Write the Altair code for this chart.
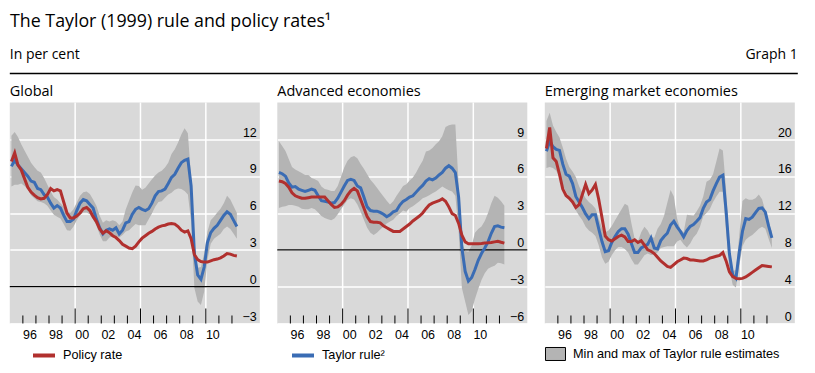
import altair as alt
import pandas as pd

# ---------------- data ----------------
quarters = [f"{1995 + i // 4}Q{i % 4 + 1}" for i in range(70)]
years = [int(q[:4]) + (int(q[-1]) - 1) / 4 + 0.125 for q in quarters]

global_policy = [10.2, 10.9, 9.9, 9.5, 8.8, 8.1, 7.7, 7.45, 7.25, 7.15,
                 7.2, 7.5, 8.0, 7.8, 7.9, 7.8, 6.9, 6.0, 5.6, 5.6,
                 5.75, 6.0, 6.35, 6.45, 6.2, 5.7, 5.3, 4.7, 4.35, 4.55,
                 4.4, 4.15, 4.0, 3.75, 3.45, 3.3, 3.15, 3.1, 3.3, 3.65,
                 3.95, 4.15, 4.35, 4.5, 4.7, 4.85, 4.95, 5.0, 5.1, 5.15,
                 5.1, 4.9, 4.6, 4.45, 4.55, 3.9, 2.6, 2.2, 2.05, 2.0,
                 2.0, 2.1, 2.2, 2.25, 2.35, 2.5, 2.7, 2.65, 2.55, 2.5]
global_taylor = [9.8, 10.3, 9.9, 9.6, 9.3, 9.0, 8.6, 8.5, 8.0, 7.9,
                 7.5, 7.3, 6.8, 6.4, 6.6, 6.4, 5.8, 5.3, 5.3, 5.5,
                 6.2, 6.8, 7.1, 7.0, 6.7, 6.4, 5.5, 4.8, 4.3, 4.6,
                 4.7, 4.6, 4.8, 4.3, 4.6, 5.2, 5.3, 5.9, 6.3, 6.45,
                 6.3, 6.2, 6.35, 6.8, 7.4, 7.75, 7.8, 7.95, 8.4, 8.9,
                 9.15, 9.65, 10.1, 10.3, 10.4, 8.2, 2.7, 0.95, 0.6, 1.6,
                 3.6, 4.4, 4.75, 5.0, 5.4, 5.8, 6.1, 5.9, 5.4, 4.9]
global_min = [8.15, 8.3, 8.3, 8.4, 8.2, 7.95, 7.45, 7.2, 6.95, 6.9,
              6.8, 6.6, 6.2, 5.85, 5.7, 5.55, 5.1, 4.6, 4.55, 4.9,
              5.4, 5.85, 6.05, 6.05, 5.9, 5.5, 5.0, 4.25, 3.7, 3.7,
              4.0, 4.1, 4.15, 4.0, 4.2, 4.5, 4.6, 4.85, 5.1, 5.0,
              5.0, 5.0, 5.5, 5.95, 6.5, 6.9, 6.95, 7.25, 7.5, 7.65,
              7.9, 8.0, 7.95, 7.8, 7.5, 5.3, -0.1, -1.2, -1.5, -0.4,
              2.2, 3.5, 3.9, 4.1, 4.3, 4.7, 4.9, 4.7, 4.3, 3.9]
global_max = [12.3, 12.6, 12.2, 11.6, 11.1, 10.6, 10.1, 9.75, 9.45, 9.3,
              8.85, 8.3, 7.75, 7.3, 7.1, 6.8, 6.5, 6.15, 6.0, 6.3,
              6.85, 7.4, 7.7, 7.75, 7.55, 7.1, 6.6, 5.8, 5.2, 5.4,
              5.3, 5.4, 5.3, 5.0, 5.3, 6.3, 7.0, 7.7, 8.25, 8.2,
              7.9, 8.05, 8.4, 8.75, 9.05, 9.3, 9.45, 9.7, 10.1, 10.8,
              11.2, 11.75, 12.4, 12.9, 12.5, 8.9, 3.6, 1.55, 1.6, 2.7,
              4.5, 5.4, 5.7, 6.05, 6.35, 6.8, 7.4, 7.1, 6.55, 6.0]

adv_policy = [5.6, 5.55, 5.4, 5.1, 4.65, 4.4, 4.3, 4.2, 4.2, 4.25,
              4.3, 4.3, 4.3, 4.3, 4.3, 4.0, 3.7, 3.45, 3.5, 3.7,
              4.0, 4.45, 4.8, 5.0, 4.8, 4.1, 3.4, 2.7, 2.3, 2.25,
              2.25, 2.2, 1.95, 1.8, 1.65, 1.5, 1.5, 1.5, 1.7, 1.9,
              2.1, 2.35, 2.55, 2.75, 3.0, 3.35, 3.65, 3.8, 3.9, 4.0,
              4.15, 3.95, 3.5, 2.95, 2.8, 2.15, 1.2, 0.65, 0.5, 0.5,
              0.5, 0.5, 0.52, 0.55, 0.57, 0.6, 0.65, 0.7, 0.62, 0.55]
adv_taylor = [6.3, 6.2, 6.0, 5.45, 5.1, 5.15, 4.95, 4.85, 4.75, 4.85,
              4.95, 4.85, 4.4, 4.0, 3.95, 3.9, 3.8, 3.85, 4.2, 4.7,
              5.2, 5.65, 5.75, 5.65, 5.2, 5.05, 4.3, 3.5, 3.2, 3.15,
              3.15, 3.05, 2.9, 2.7, 2.85, 3.1, 3.2, 3.65, 3.95, 4.1,
              4.3, 4.4, 4.7, 5.0, 5.25, 5.6, 5.8, 5.7, 5.85, 6.1,
              6.3, 6.65, 6.85, 6.65, 6.3, 4.3, 0.15, -1.75, -2.55, -2.25,
              -1.6, -0.85, -0.3, 0.15, 0.65, 1.35, 1.9, 1.95, 1.85, 1.8]
adv_min = [3.4, 3.5, 3.55, 3.65, 3.65, 3.6, 3.5, 3.35, 3.3, 3.3,
           3.4, 3.3, 3.05, 2.75, 2.6, 2.5, 2.4, 2.55, 2.9, 3.3,
           3.7, 4.05, 4.2, 4.1, 3.7, 3.1, 2.45, 1.8, 1.4, 1.2,
           1.4, 1.65, 1.9, 2.15, 2.3, 2.45, 2.75, 2.95, 3.2, 3.1,
           3.4, 3.55, 3.75, 3.95, 4.2, 4.3, 4.45, 4.6, 4.75, 4.95,
           5.15, 5.0, 4.85, 4.75, 4.4, 1.5, -3.1, -4.2, -5.3, -5.0,
           -4.0, -3.2, -2.45, -1.9, -1.55, -1.4, -1.3, -1.05, -1.1, -1.2]
adv_max = [8.85, 8.45, 8.05, 7.4, 6.75, 6.55, 6.4, 6.25, 6.1, 6.1,
           5.85, 5.75, 5.6, 5.15, 4.95, 4.9, 4.8, 4.8, 5.2, 5.95,
           6.7, 7.25, 7.55, 7.65, 7.45, 7.0, 6.6, 6.15, 5.7, 5.4,
           5.05, 4.7, 4.35, 4.0, 3.7, 3.95, 4.4, 4.8, 5.2, 5.35,
           5.65, 5.9, 6.3, 6.8, 7.25, 8.0, 8.1, 8.3, 8.6, 8.85,
           9.25, 10.0, 10.15, 10.2, 10.2, 5.3, 0.7, -0.1, -0.15, 0.35,
           1.4, 1.7, 1.9, 2.35, 3.0, 3.8, 4.4, 4.25, 3.95, 3.6]

eme_policy = [19.0, 21.3, 18.0, 17.6, 16.2, 14.6, 13.9, 13.6, 13.2, 12.6,
              12.9, 14.0, 15.1, 14.1, 14.5, 15.1, 13.5, 11.5, 9.5, 9.1,
              8.95, 9.2, 9.45, 9.6, 9.4, 8.9, 8.9, 9.1, 8.8, 9.0,
              8.5, 8.0, 7.85, 7.6, 7.2, 6.8, 6.5, 6.2, 6.1, 6.4,
              6.7, 6.9, 7.1, 7.05, 6.9, 6.9, 6.85, 6.8, 6.8, 6.9,
              7.1, 7.2, 7.3, 7.4, 7.7, 6.8, 5.6, 5.1, 4.9, 4.85,
              4.9, 5.05, 5.3, 5.55, 5.8, 6.05, 6.3, 6.25, 6.2, 6.15]
eme_taylor = [18.7, 19.8, 19.2, 18.9, 18.8, 17.3, 16.2, 16.0, 15.2, 13.8,
              13.2, 12.6, 11.9, 11.4, 11.8, 11.8, 10.3, 8.9, 7.8, 7.9,
              8.8, 9.45, 10.0, 10.3, 10.3, 9.7, 8.7, 7.7, 7.7, 8.2,
              8.4, 8.6, 9.3, 8.2, 8.1, 9.0, 9.45, 9.8, 10.7, 11.1,
              10.5, 10.0, 9.4, 10.1, 10.55, 10.75, 11.1, 11.5, 12.5, 13.2,
              13.45, 14.4, 15.2, 15.9, 16.1, 12.2, 7.6, 5.3, 4.9, 7.7,
              10.0, 11.4, 11.3, 11.55, 12.05, 12.5, 12.55, 12.1, 10.6, 9.3]
eme_min = [16.9, 17.0, 16.9, 16.6, 15.9, 15.0, 14.3, 13.7, 13.0, 12.3,
           11.7, 11.2, 10.5, 10.1, 9.85, 9.5, 8.5, 7.2, 6.5, 6.7,
           7.4, 7.95, 8.3, 8.3, 8.1, 7.7, 7.0, 6.4, 6.4, 6.9,
           7.4, 7.6, 7.45, 7.5, 7.7, 8.2, 8.3, 8.4, 8.4, 8.4,
           8.9, 9.1, 8.6, 8.25, 8.7, 9.35, 9.75, 10.5, 11.65, 12.0,
           12.4, 13.2, 13.8, 14.3, 14.3, 10.0, 6.0, 4.2, 3.9, 6.2,
           8.4, 9.1, 9.4, 9.6, 9.95, 10.3, 10.5, 10.3, 9.2, 8.2]
eme_max = [22.0, 22.9, 21.5, 20.8, 20.2, 19.1, 17.9, 17.0, 16.5, 15.9,
           14.9, 14.2, 13.6, 13.2, 12.9, 12.5, 11.4, 10.4, 9.9, 10.1,
           10.6, 11.2, 11.8, 12.4, 13.0, 12.8, 10.9, 9.2, 8.9, 9.9,
           10.5, 10.1, 9.4, 9.3, 10.3, 10.8, 11.7, 13.1, 14.5, 13.8,
           11.4, 10.2, 9.9, 11.8, 11.75, 11.7, 12.2, 12.8, 13.8, 15.4,
           15.6, 16.2, 17.6, 19.0, 18.8, 14.5, 8.3, 5.7, 5.8, 9.5,
           13.3, 13.6, 13.45, 13.45, 13.6, 14.0, 13.5, 12.2, 10.9, 10.0]

panel_titles = ["Global", "Advanced economies", "Emerging market economies"]
series_labels = ["Policy rate", "Taylor rule\u00b2", "Min and max of Taylor rule estimates"]
label_years = [1996, 1998, 2000, 2002, 2004, 2006, 2008, 2010]
grid_years = [2000, 2005, 2010]
tick_years = list(range(1996, 2013))
global_ticks = [-3, 0, 3, 6, 9, 12]
adv_ticks = [-6, -3, 0, 3, 6, 9]
eme_ticks = [0, 4, 8, 12, 16, 20]

# ---------------- style ----------------
RED = "#b1302e"
BLUE = "#3a6cb4"
BAND = "#b4b4b4"
BG = "#d9d9d9"
TFONT = "Open Sans"
LFONT = "Liberation Sans"
W, H = 250, 221
XDOM = [1995, 2014.13]
LEG_Y = 240


def xaxis():
    return alt.Axis(values=[y + 0.5 for y in label_years],
                    labelExpr="substring(toString(floor(datum.value)), 2)",
                    grid=False, ticks=False, domain=False, title=None,
                    labelFont=LFONT, labelFontSize=12.5, labelColor="black",
                    labelPadding=5, labelBaseline="top", labelFlush=False,
                    labelOverlap=False)


def yaxis(vals):
    return alt.Axis(orient="right", values=vals, format="d", grid=True,
                    gridColor="white", gridWidth=1.5, gridOpacity=1,
                    ticks=False, domain=False, title=None,
                    labelAlign="right", labelPadding=-3.5,
                    labelBaseline="alphabetic", labelOffset=-3.3,
                    labelFont=LFONT, labelFontSize=12.5, labelColor="black",
                    labelFlush=False, labelOverlap=False)


def line_legend(x):
    return alt.Legend(orient="none", legendX=x, legendY=LEG_Y, title=None,
                      symbolType="stroke", symbolStrokeWidth=4, symbolSize=484,
                      labelFont=LFONT, labelFontSize=12.7, labelColor="black",
                      labelOffset=6, padding=0, labelLimit=400)


def panel(idx, policy, taylor, lo, hi, ydom, yvals, zero_line, legend_x):
    df = pd.DataFrame({"yr": years, "policy": policy, "taylor": taylor,
                       "lo": lo, "hi": hi})
    xs = alt.Scale(domain=XDOM, nice=False, zero=False)
    ys = alt.Scale(domain=ydom, nice=False, zero=False)

    def X(f):
        return alt.X(f, type="quantitative", scale=xs, axis=xaxis())

    def Y(f):
        return alt.Y(f, type="quantitative", scale=ys, axis=yaxis(yvals))

    vgrid = alt.Chart(pd.DataFrame({"g": grid_years})).mark_rule(
        color="white", strokeWidth=1.5).encode(x=X("g"))

    if idx == 2:
        fill = alt.Fill("lab:N", scale=alt.Scale(domain=[series_labels[2]], range=[BAND]),
                        legend=alt.Legend(orient="none", legendX=legend_x, legendY=LEG_Y + 1,
                                          title=None,
                                          symbolType="M-1,-0.65H1V0.65H-1Z", symbolSize=400,
                                          symbolFillColor=BAND, symbolStrokeColor="black",
                                          symbolStrokeWidth=1, symbolOpacity=1,
                                          labelFont=LFONT, labelFontSize=12.7,
                                          labelColor="black", labelOffset=7, padding=0,
                                          labelLimit=400))
    else:
        fill = alt.value(BAND)
    band = alt.Chart(df).transform_calculate(lab=f"'{series_labels[2]}'").mark_area(
        opacity=1).encode(x=X("yr"), y=Y("lo"), y2=alt.Y2("hi"), fill=fill)

    layers = [vgrid, band]
    if zero_line:
        layers.append(alt.Chart(pd.DataFrame({"z": [0]})).mark_rule(
            color="black", strokeWidth=1.3).encode(y=Y("z")))

    short = [t for t in tick_years if t not in grid_years]
    layers.append(alt.Chart(pd.DataFrame({"t": short})).mark_rule(
        color="black", strokeWidth=1).encode(
        x=X("t"), y=alt.value(H), y2=alt.value(H - 8)))
    layers.append(alt.Chart(pd.DataFrame({"t": grid_years})).mark_rule(
        color="black", strokeWidth=1).encode(
        x=X("t"), y=alt.value(H), y2=alt.value(H - 15)))

    if idx == 1:
        bcolor = alt.Color("lab:N", scale=alt.Scale(domain=[series_labels[1]], range=[BLUE]),
                           legend=line_legend(legend_x))
    else:
        bcolor = alt.value(BLUE)
    blue = alt.Chart(df).transform_calculate(lab=f"'{series_labels[1]}'").mark_line(
        strokeWidth=3).encode(x=X("yr"), y=Y("taylor"), color=bcolor)

    if idx == 0:
        rcolor = alt.Color("lab:N", scale=alt.Scale(domain=[series_labels[0]], range=[RED]),
                           legend=line_legend(legend_x))
    else:
        rcolor = alt.value(RED)
    red = alt.Chart(df).transform_calculate(lab=f"'{series_labels[0]}'").mark_line(
        strokeWidth=3).encode(x=X("yr"), y=Y("policy"), color=rcolor)

    layers += [blue, red]
    return alt.layer(*layers).properties(
        width=W, height=H,
        view=alt.ViewBackground(fill=BG, stroke=None),
        title=alt.TitleParams(panel_titles[idx], anchor="start", frame="group",
                              font=TFONT, fontSize=14.5, fontWeight="normal",
                              color="black", baseline="alphabetic", offset=-8.5))


p1 = panel(0, global_policy, global_taylor, global_min, global_max, [-3, 15], global_ticks, True, 21.2)
p2 = panel(1, adv_policy, adv_taylor, adv_min, adv_max, [-6, 12], adv_ticks, True, 12.7)
p3 = panel(2, eme_policy, eme_taylor, eme_min, eme_max, [0, 24], eme_ticks, False, 0.2)

panels = alt.hconcat(p1, p2, p3, spacing=17.5, bounds="flush").resolve_scale(
    color="independent", fill="independent").resolve_legend(
    color="independent", fill="independent")

HW, HH = 788, 38.5
hdr_left = alt.Chart(pd.DataFrame({"t": ["In per cent"]})).mark_text(
    align="left", baseline="alphabetic", font=TFONT, fontSize=14, color="black").encode(
    x=alt.value(0), y=alt.value(23.5), text="t:N")
hdr_right = alt.Chart(pd.DataFrame({"t": ["Graph 1"]})).mark_text(
    align="right", baseline="alphabetic", font=TFONT, fontSize=14, color="black").encode(
    x=alt.value(HW), y=alt.value(23.5), text="t:N")
hdr_rule = alt.Chart(pd.DataFrame({"t": [0]})).mark_rule(
    color="black", strokeWidth=1.5).encode(
    x=alt.value(0), x2=alt.value(HW), y=alt.value(HH))
header = alt.layer(hdr_left, hdr_right, hdr_rule).properties(
    width=HW, height=HH, view=alt.ViewBackground(stroke=None))

chart = alt.vconcat(header, panels, spacing=28.5, bounds="flush").properties(
    title=alt.TitleParams("The Taylor (1999) rule and policy rates\u00b9", anchor="start",
                          font=TFONT, fontSize=17.8, fontWeight="normal", color="black",
                          baseline="top", offset=4, dx=4.6),
    padding={"left": -3.2, "top": 5, "right": 5, "bottom": 0},
    background="white",
)

chart.save("out.html", embed_options={"renderer": "svg", "actions": False})
